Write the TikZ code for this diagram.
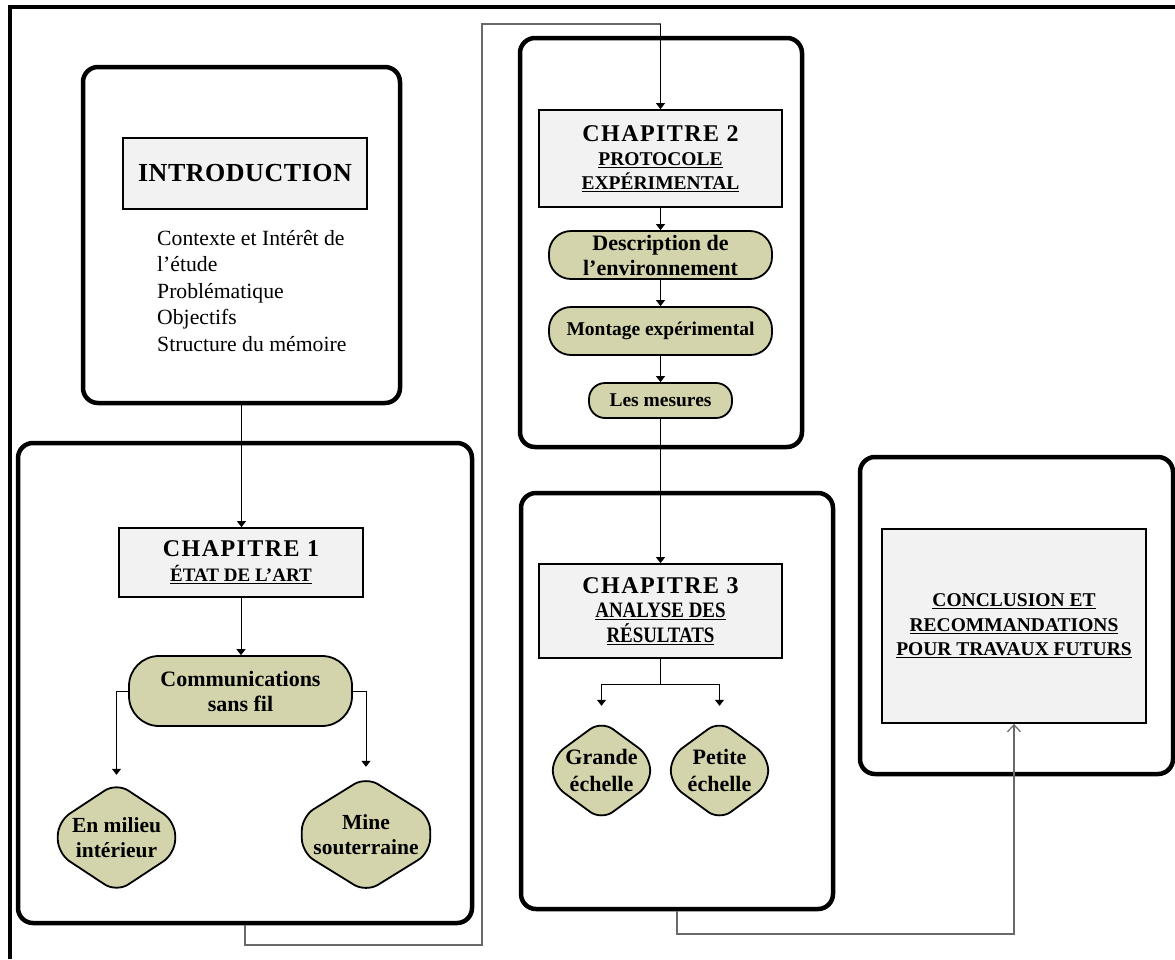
\documentclass[tikz,border=0pt]{standalone}
\usepackage{fontspec}
\setmainfont{Liberation Serif}
\newfontfamily\spacedfont{Liberation Serif}[LetterSpace=6]
\newfontfamily\introfont{Liberation Serif}[LetterSpace=2]
\newfontfamily\condfont{Liberation Serif}[FakeStretch=0.86]
\usetikzlibrary{arrows.meta,backgrounds,calc}
\definecolor{boxgray}{RGB}{242,242,242}
\definecolor{olivefill}{RGB}{211,211,172}
\definecolor{routegray}{RGB}{105,105,105}
\tikzset{
  frame/.style={draw, line width=4.5pt, rounded corners=15pt, inner sep=0pt},
  gbox/.style={draw, line width=1.8pt, fill=boxgray, inner sep=0pt, align=center},
  pill/.style={draw, line width=1.8pt, fill=olivefill, inner sep=0pt, align=center,
    font=\bfseries\fontsize{22}{25}\selectfont},
  dtext/.style={inner sep=0pt, align=center, font=\bfseries\fontsize{21.5}{25}\selectfont},
  dshape/.style={draw, line width=1.8pt, fill=olivefill, rounded corners=14pt},
  arr/.style={-{Triangle[width=9pt,length=6pt]}, line width=1pt},
  route/.style={draw=routegray, line width=1.2pt},
}
\begin{document}
\begin{tikzpicture}[x=1pt,y=-1pt]
\useasboundingbox (0,0) rectangle (1175,959);
% outer page frame
\draw[line width=4pt] (10,959) -- (10,7) -- (1175,7);

% frames
\node[frame, minimum width=317pt, minimum height=336pt] (introF) at (241.5,235) {};
\node[frame, minimum width=454pt, minimum height=480pt] (ch1F) at (245,683) {};
\node[frame, minimum width=282pt, minimum height=409pt] (ch2F) at (661,242.5) {};
\node[frame, minimum width=312pt, minimum height=416pt] (ch3F) at (677,701) {};
\node[frame, minimum width=313pt, minimum height=317pt] (concF) at (1016.5,615.5) {};

% gray title boxes
\node[gbox, minimum width=244pt, minimum height=71pt,
  font=\introfont\bfseries\fontsize{26}{30}\selectfont] (intro) at (245,173.5) {INTRODUCTION};
\node[gbox, minimum width=244pt, minimum height=69pt,
  font=\bfseries\fontsize{19}{25}\selectfont] (c1) at (241,562.5)
  {{\spacedfont\fontsize{24}{25}\selectfont CHAPITRE 1}\\\underline{ÉTAT DE L’ART}};
\node[gbox, minimum width=243pt, minimum height=97pt,
  font=\bfseries\fontsize{19.5}{24}\selectfont] (c2) at (660.5,158.5)
  {{\spacedfont\fontsize{24}{24}\selectfont CHAPITRE 2}\\\underline{PROTOCOLE}\\\underline{EXPÉRIMENTAL}};
\node[gbox, minimum width=243pt, minimum height=94pt,
  font=\bfseries\fontsize{22}{24.5}\selectfont] (c3) at (660.5,611)
  {{\spacedfont\fontsize{24}{24.5}\selectfont CHAPITRE 3}\\{\condfont\underline{ANALYSE DES}}\\{\condfont\underline{RÉSULTATS}}};
\node[gbox, minimum width=264pt, minimum height=194pt,
  font=\bfseries\fontsize{19.5}{24.5}\selectfont] (conc) at (1014,626)
  {\underline{CONCLUSION ET}\\\underline{RECOMMANDATIONS}\\\underline{POUR TRAVAUX FUTURS}};

% intro list
\node[anchor=north west, inner sep=0pt, align=left,
  font=\fontsize{21.7}{26.5}\selectfont] (introtxt) at (157,230)
  {Contexte et Intérêt de\\l’étude\\Problématique\\Objectifs\\Structure du mémoire};

% pills
\node[pill, rounded corners=30pt, minimum width=223pt, minimum height=70pt] (comm) at (240.5,691)
  {Communications\\sans fil};
\node[pill, rounded corners=22pt, minimum width=223pt, minimum height=48pt] (desc) at (660.5,255)
  {Description de\\l’environnement};
\node[pill, rounded corners=22pt, minimum width=223pt, minimum height=48pt,
  font=\bfseries\fontsize{19.5}{24}\selectfont] (mont) at (660.5,331) {Montage expérimental};
\node[pill, rounded corners=16pt, minimum width=143pt, minimum height=35pt,
  font=\bfseries\fontsize{19.5}{24}\selectfont] (mes) at (660.5,400.5) {Les mesures};

% rounded diamonds (text nodes, shapes behind)
\node[dtext, minimum width=117pt, minimum height=109pt] (milieu) at (116.5,837.5) {En milieu\\intérieur};
\node[dtext, minimum width=128pt, minimum height=115pt] (mine) at (366,834.5) {Mine\\souterraine};
\node[dtext, minimum width=97pt, minimum height=99pt, font=\bfseries\fontsize{22}{27}\selectfont] (grande) at (601.5,770.5) {Grande\\échelle};
\node[dtext, minimum width=97pt, minimum height=99pt, font=\bfseries\fontsize{22}{27}\selectfont] (petite) at (719.5,770.5) {Petite\\échelle};
\begin{scope}[on background layer]
  \foreach \n/\s in {milieu/16,mine/18,grande/14,petite/14}
    \draw[dshape] (\n.north) -- ($(\n.east)+(0,-\s)$) -- ($(\n.east)+(0,\s)$) -- (\n.south)
      -- ($(\n.west)+(0,\s)$) -- ($(\n.west)+(0,-\s)$) -- cycle;
\end{scope}

% connectors
\draw[arr] (introF.south) -- (introF.south |- c1.north);
\draw[arr] (c1.south) -- (c1.south |- comm.north);
\draw[arr, shorten >=8pt] (comm.west) -| (milieu.north);
\draw[arr, shorten >=10pt] (comm.east) -| (mine.north);

\draw[arr] (c2.south) -- (desc.north);
\draw[arr] (desc.south) -- (mont.north);
\draw[arr] (mont.south) -- (mes.north);
\draw[arr] (mes.south) -- (c3.north);

\coordinate (br3) at (660.5,684);
\draw[line width=1pt] (c3.south) -- (br3);
\draw[arr, shorten >=15pt] (br3) -| (grande.north);
\draw[arr, shorten >=15pt] (br3) -| (petite.north);

% long routes
\coordinate (r1a) at (482,945);
\coordinate (r1b) at (482,24);
\coordinate (r1c) at (660.5,24);
\draw[route] (ch1F.south) |- (r1a) -- (r1b) -- (r1c);
\draw[arr] (r1c) -- (c2.north);

\coordinate (r2a) at (1014,934);
\draw[route, -{Straight Barb[width=13pt,length=7pt]}] (ch3F.south) |- (r2a) -- (conc.south);
\end{tikzpicture}
\end{document}
